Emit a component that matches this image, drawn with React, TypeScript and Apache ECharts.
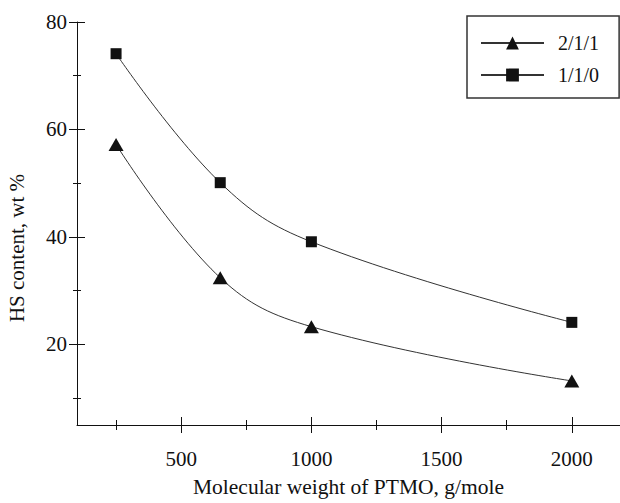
import React, { useEffect, useRef } from "react";
import * as echarts from "echarts";

const molecularWeights = [250, 650, 1000, 2000];
const series211 = [57.2, 32.4, 23.3, 13.2];
const series110 = [74.1, 50.1, 39.1, 24.1];
const seriesNames = ["2/1/1", "1/1/0"];
const xMajorTicks = [500, 1000, 1500, 2000];
const xMinorTicks = [250, 750, 1250, 1750];
const yMajorTicks = [20, 40, 60, 80];
const yMinorTicks = [10, 30, 50, 70];

const FONT = "'Liberation Serif', 'DejaVu Serif', 'Times New Roman', serif";
const INK = "#111";

export default function App() {
  const ref = useRef<HTMLDivElement>(null);
  useEffect(() => {
    if (!ref.current) return;
    const chart = echarts.init(ref.current, undefined, { renderer: "svg" });
    const xBase = { type: "value", gridIndex: 0, min: 100, max: 2185, position: "bottom", splitLine: { show: false } };
    const yBase = { type: "value", gridIndex: 0, min: 5, max: 80, position: "left", splitLine: { show: false } };
    const noLabel = { show: false };
    const noLine = { show: false };
    const tick = (vals: number[], inside: boolean, len: number) => ({
      show: true,
      inside,
      length: len,
      customValues: vals,
      lineStyle: { color: INK, width: 1 },
    });
    const plain = (v: number) => String(v);
    const toPairs = (ys: number[]) => ys.map((y, i) => [molecularWeights[i], y]);
    chart.setOption({
      animation: false,
      backgroundColor: "#fff",
      textStyle: { fontFamily: FONT },
      grid: { left: 77, top: 22, right: 0, bottom: 75, containLabel: false },
      xAxis: [
        {
          ...xBase,
          name: "Molecular weight of PTMO, g/mole",
          nameLocation: "middle",
          nameGap: 51,
          nameTextStyle: { fontFamily: FONT, fontSize: 21.5, color: INK },
          axisLine: { show: true, lineStyle: { color: INK, width: 1 } },
          axisTick: tick(xMajorTicks, false, 8),
          axisLabel: { show: true, customValues: xMajorTicks, formatter: plain, margin: 23, fontFamily: FONT, fontSize: 21, color: INK },
        },
        { ...xBase, axisLine: noLine, axisTick: tick(xMajorTicks, true, 8), axisLabel: noLabel },
        { ...xBase, axisLine: noLine, axisTick: tick(xMinorTicks, false, 5), axisLabel: noLabel },
        { ...xBase, axisLine: noLine, axisTick: tick(xMinorTicks, true, 5), axisLabel: noLabel },
      ],
      yAxis: [
        {
          ...yBase,
          axisLine: { show: true, lineStyle: { color: INK, width: 1 } },
          axisTick: tick(yMajorTicks, false, 8),
          axisLabel: { show: true, customValues: yMajorTicks, formatter: plain, margin: 10, fontFamily: FONT, fontSize: 21, color: INK },
        },
        { ...yBase, axisLine: noLine, axisTick: tick(yMajorTicks, true, 8), axisLabel: noLabel },
        { ...yBase, axisLine: noLine, axisTick: tick(yMinorTicks, false, 4), axisLabel: noLabel },
        { ...yBase, axisLine: noLine, axisTick: tick(yMinorTicks, true, 4), axisLabel: noLabel },
      ],
      legend: {
        show: true,
        orient: "vertical",
        left: 467,
        top: 16,
        padding: [17, 20, 13, 13],
        itemWidth: 63,
        itemHeight: 16,
        itemGap: 12,
        borderColor: "#333",
        borderWidth: 1.5,
        backgroundColor: "#fff",
        textStyle: { fontFamily: FONT, fontSize: 20, color: INK, padding: [0, 0, 0, 9] },
        data: seriesNames,
      },
      graphic: [
        {
          type: "text",
          x: 17,
          y: 248,
          rotation: Math.PI / 2,
          style: {
            text: "HS content, wt %",
            fontFamily: FONT,
            fontSize: 21,
            fill: INK,
            textAlign: "center",
            textVerticalAlign: "middle",
          },
        },
      ],
      series: [
        {
          name: seriesNames[0],
          type: "line",
          xAxisIndex: 0,
          yAxisIndex: 0,
          data: toPairs(series211),
          smooth: 0.4,
          symbol: "triangle",
          symbolSize: [15, 13],
          lineStyle: { color: "#333", width: 1 },
          itemStyle: { color: INK, borderWidth: 0 },
        },
        {
          name: seriesNames[1],
          type: "line",
          xAxisIndex: 0,
          yAxisIndex: 0,
          data: toPairs(series110),
          smooth: 0.4,
          symbol: "rect",
          symbolSize: 11,
          lineStyle: { color: "#333", width: 1 },
          itemStyle: { color: INK, borderWidth: 0 },
        },
      ],
    });
    return () => chart.dispose();
  }, []);
  return (
    <div
      ref={ref}
      style={{ position: "fixed", left: 0, top: 0, width: 620, height: 503, background: "#fff" }}
    />
  );
}
